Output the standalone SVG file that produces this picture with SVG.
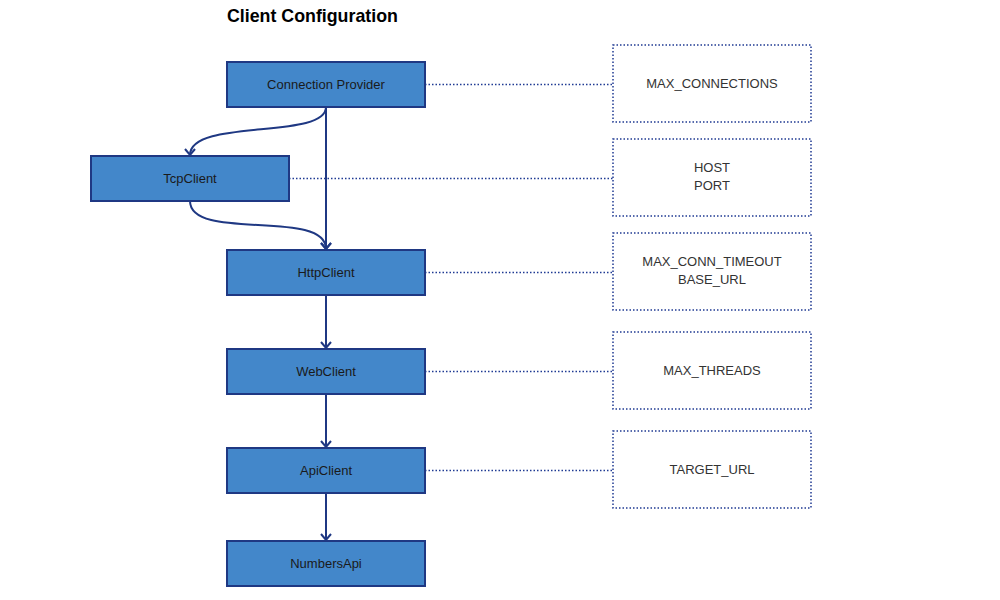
<svg xmlns="http://www.w3.org/2000/svg" width="1000" height="600" viewBox="0 0 1000 600">
<style>
.node rect{fill:#4387CA;stroke:#1F3883;stroke-width:2}
.cfg rect{fill:#fff;stroke:#1F3A93;stroke-width:1.5;stroke-dasharray:1.5 2}
text{font-family:"Liberation Sans",Arial,sans-serif;font-size:13px;fill:#1a1a1a;text-anchor:middle}
.cfg text{fill:#333}
.title{font-size:17.8px;font-weight:bold;text-anchor:start;fill:#000}
.edge{fill:none;stroke:#1F3883;stroke-width:2}
.dot{fill:none;stroke:#1F3A93;stroke-width:1.5;stroke-dasharray:1.5 2}
</style>
<defs>
<marker id="arr" viewBox="-7 -7 14 14" markerWidth="14" markerHeight="14" refX="0" refY="0" orient="auto" markerUnits="userSpaceOnUse">
<path d="M-6,-5 L0,0 L-6,5" fill="none" stroke="#1F3883" stroke-width="2"/>
</marker>
</defs>
<rect width="1000" height="600" fill="#fff"/>
<text class="title" x="227" y="22">Client Configuration</text>
<g id="connectors">
<path class="dot" d="M425,84.5 H613"/>
<path class="dot" d="M289,178.5 H613"/>
<path class="dot" d="M425,272.5 H613"/>
<path class="dot" d="M425,371.5 H613"/>
<path class="dot" d="M425,470.5 H613"/>
<path class="edge" d="M326,107 V249" marker-end="url(#arr)"/>
<path class="edge" d="M326,107 C326,140 190,118 190,155" marker-end="url(#arr)"/>
<path class="edge" d="M190,201 C190,242 326,208 326,249" marker-end="url(#arr)"/>
<path class="edge" d="M326,295 V348" marker-end="url(#arr)"/>
<path class="edge" d="M326,394 V447" marker-end="url(#arr)"/>
<path class="edge" d="M326,493 V540" marker-end="url(#arr)"/>
</g>
<g id="connection-provider" class="node"><rect x="227" y="62" width="198" height="45"/><text x="326" y="89">Connection Provider</text></g>
<g id="tcpclient" class="node"><rect x="91" y="156" width="198" height="45"/><text x="190" y="183">TcpClient</text></g>
<g id="httpclient" class="node"><rect x="227" y="250" width="198" height="45"/><text x="326" y="277">HttpClient</text></g>
<g id="webclient" class="node"><rect x="227" y="349" width="198" height="45"/><text x="326" y="376">WebClient</text></g>
<g id="apiclient" class="node"><rect x="227" y="448" width="198" height="45"/><text x="326" y="475">ApiClient</text></g>
<g id="numbersapi" class="node"><rect x="227" y="541" width="198" height="45"/><text x="326" y="568">NumbersApi</text></g>
<g id="cfg-max-connections" class="cfg"><rect x="613" y="45" width="198" height="77"/><text x="712" y="88">MAX_CONNECTIONS</text></g>
<g id="cfg-host-port" class="cfg"><rect x="613" y="139" width="198" height="77"/><text x="712" y="172">HOST</text><text x="712" y="190">PORT</text></g>
<g id="cfg-timeout" class="cfg"><rect x="613" y="233" width="198" height="77"/><text x="712" y="266">MAX_CONN_TIMEOUT</text><text x="712" y="284">BASE_URL</text></g>
<g id="cfg-threads" class="cfg"><rect x="613" y="332" width="198" height="77"/><text x="712" y="375">MAX_THREADS</text></g>
<g id="cfg-target" class="cfg"><rect x="613" y="431" width="198" height="77"/><text x="712" y="474">TARGET_URL</text></g>
</svg>
